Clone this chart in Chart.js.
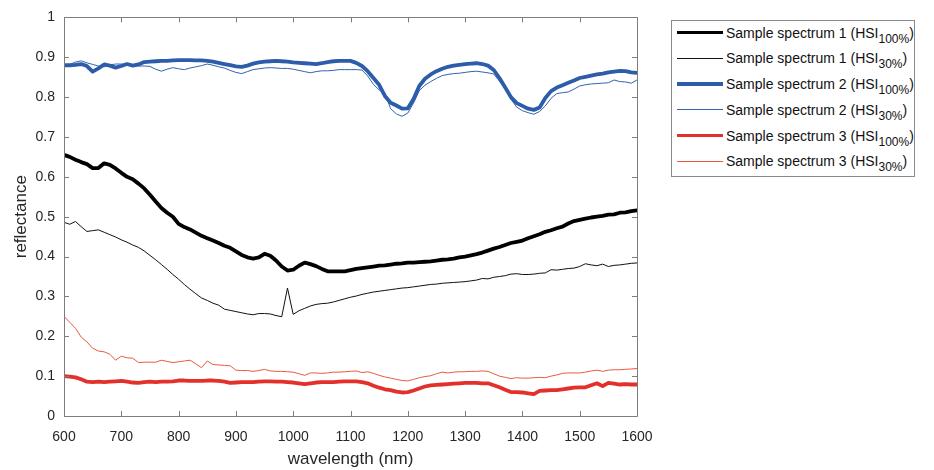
<!DOCTYPE html>
<html>
<head>
<meta charset="utf-8">
<script src="https://cdn.jsdelivr.net/npm/chart.js@4.4.1/dist/chart.umd.min.js"></script>
<style>
  html, body { margin: 0; padding: 0; background: #fff; }
  #wrap { position: relative; width: 934px; height: 470px; }
  #legend {
    position: absolute; left: 671px; top: 20px; width: 244px; height: 157px;
    border: 1px solid #8a8a8a; box-sizing: border-box; background: #fff;
    font-family: "Liberation Sans", Arial, sans-serif; font-size: 14px; color: #111;
  }
  .row { position: absolute; left: 0; height: 20px; width: 240px; }
  .swatch { position: absolute; left: 5px; width: 46px; }
  .lbl { position: absolute; left: 54px; top: 0; white-space: nowrap; line-height: 20px; }
  .lbl sub { font-size: 12px; vertical-align: -5px; line-height: 0; }
</style>
</head>
<body>
<div id="wrap">
  <canvas id="c" width="934" height="470"></canvas>
  <div id="legend"></div>
</div>
<script>
// ---- data ----
const wavelengths = [600,610,620,630,640,650,660,670,680,690,700,710,720,730,740,750,760,770,780,790,800,810,820,830,840,850,860,870,880,890,900,910,920,930,940,950,960,970,980,990,1000,1010,1020,1030,1040,1050,1060,1070,1080,1090,1100,1110,1120,1130,1140,1150,1160,1170,1180,1190,1200,1210,1220,1230,1240,1250,1260,1270,1280,1290,1300,1310,1320,1330,1340,1350,1360,1370,1380,1390,1400,1410,1420,1430,1440,1450,1460,1470,1480,1490,1500,1510,1520,1530,1540,1550,1560,1570,1580,1590,1600];

const s1_100 = [0.655,0.650,0.643,0.637,0.632,0.622,0.622,0.634,0.630,0.621,0.610,0.600,0.594,0.583,0.571,0.555,0.538,0.522,0.510,0.500,0.482,0.474,0.468,0.460,0.452,0.446,0.440,0.434,0.427,0.422,0.413,0.404,0.398,0.395,0.398,0.407,0.402,0.390,0.375,0.365,0.367,0.377,0.385,0.381,0.376,0.369,0.363,0.363,0.363,0.363,0.366,0.369,0.371,0.373,0.375,0.377,0.378,0.380,0.382,0.383,0.385,0.385,0.386,0.387,0.388,0.390,0.392,0.393,0.395,0.398,0.400,0.403,0.406,0.410,0.415,0.420,0.424,0.429,0.434,0.437,0.440,0.446,0.451,0.456,0.462,0.466,0.471,0.475,0.483,0.489,0.492,0.495,0.498,0.500,0.502,0.505,0.506,0.510,0.511,0.514,0.516];

const s1_30 = [0.486,0.481,0.488,0.475,0.463,0.465,0.467,0.461,0.455,0.449,0.442,0.436,0.429,0.423,0.414,0.403,0.392,0.380,0.368,0.355,0.343,0.330,0.318,0.307,0.296,0.290,0.283,0.278,0.268,0.265,0.262,0.259,0.256,0.254,0.257,0.257,0.256,0.252,0.249,0.321,0.255,0.264,0.270,0.276,0.280,0.282,0.283,0.286,0.290,0.294,0.298,0.301,0.305,0.308,0.311,0.313,0.315,0.317,0.319,0.321,0.322,0.324,0.326,0.328,0.330,0.331,0.333,0.334,0.335,0.336,0.337,0.339,0.341,0.345,0.344,0.348,0.350,0.352,0.356,0.357,0.355,0.355,0.356,0.358,0.359,0.367,0.366,0.368,0.370,0.371,0.375,0.382,0.379,0.377,0.381,0.375,0.378,0.379,0.381,0.383,0.384];

const s2_100 = [0.880,0.880,0.881,0.883,0.878,0.864,0.872,0.882,0.879,0.874,0.878,0.883,0.879,0.882,0.888,0.889,0.890,0.891,0.891,0.892,0.893,0.893,0.893,0.892,0.892,0.891,0.889,0.886,0.883,0.880,0.877,0.876,0.879,0.884,0.887,0.889,0.890,0.891,0.890,0.889,0.887,0.886,0.885,0.884,0.883,0.885,0.888,0.890,0.891,0.891,0.891,0.886,0.878,0.865,0.848,0.831,0.803,0.786,0.779,0.771,0.772,0.795,0.828,0.846,0.857,0.865,0.871,0.876,0.879,0.881,0.883,0.884,0.885,0.883,0.879,0.868,0.848,0.824,0.800,0.785,0.778,0.771,0.768,0.774,0.798,0.815,0.824,0.830,0.836,0.842,0.848,0.851,0.854,0.857,0.859,0.862,0.864,0.866,0.865,0.862,0.861];

const s2_30 = [0.880,0.882,0.888,0.891,0.886,0.882,0.878,0.876,0.881,0.883,0.883,0.882,0.880,0.878,0.878,0.877,0.870,0.865,0.870,0.874,0.871,0.869,0.873,0.876,0.879,0.883,0.880,0.876,0.873,0.867,0.862,0.859,0.864,0.869,0.871,0.873,0.874,0.873,0.872,0.872,0.870,0.867,0.864,0.861,0.864,0.866,0.866,0.867,0.869,0.869,0.869,0.869,0.868,0.853,0.832,0.818,0.810,0.771,0.758,0.752,0.760,0.785,0.816,0.830,0.839,0.847,0.854,0.857,0.859,0.860,0.862,0.864,0.865,0.863,0.861,0.858,0.840,0.820,0.795,0.775,0.766,0.761,0.757,0.764,0.778,0.797,0.809,0.811,0.813,0.820,0.828,0.831,0.833,0.834,0.835,0.836,0.843,0.839,0.838,0.835,0.843];

const s3_100 = [0.100,0.099,0.097,0.092,0.086,0.085,0.086,0.085,0.086,0.087,0.088,0.086,0.084,0.083,0.085,0.086,0.085,0.086,0.086,0.087,0.089,0.089,0.088,0.088,0.088,0.089,0.089,0.088,0.086,0.083,0.084,0.085,0.085,0.085,0.086,0.087,0.087,0.086,0.086,0.085,0.084,0.082,0.080,0.082,0.084,0.085,0.085,0.085,0.086,0.087,0.087,0.087,0.085,0.082,0.076,0.071,0.067,0.065,0.061,0.059,0.060,0.064,0.069,0.074,0.077,0.078,0.079,0.080,0.081,0.082,0.083,0.083,0.083,0.082,0.082,0.077,0.072,0.066,0.060,0.060,0.059,0.057,0.055,0.063,0.064,0.065,0.065,0.067,0.069,0.071,0.072,0.072,0.077,0.082,0.075,0.083,0.081,0.079,0.080,0.079,0.079];

const s3_30 = [0.250,0.235,0.220,0.198,0.186,0.170,0.163,0.161,0.155,0.140,0.150,0.146,0.145,0.134,0.135,0.135,0.135,0.140,0.137,0.134,0.136,0.138,0.140,0.131,0.121,0.138,0.129,0.128,0.127,0.126,0.115,0.114,0.114,0.112,0.114,0.117,0.113,0.112,0.112,0.111,0.110,0.106,0.102,0.108,0.108,0.107,0.108,0.110,0.110,0.111,0.112,0.113,0.109,0.111,0.107,0.102,0.098,0.095,0.092,0.089,0.088,0.092,0.096,0.099,0.101,0.106,0.110,0.108,0.110,0.111,0.111,0.112,0.112,0.113,0.112,0.106,0.100,0.097,0.094,0.096,0.095,0.095,0.096,0.097,0.096,0.100,0.103,0.107,0.108,0.108,0.108,0.110,0.113,0.115,0.112,0.115,0.116,0.116,0.117,0.118,0.119];

const seriesNames = ['Sample spectrum 1', 'Sample spectrum 1', 'Sample spectrum 2', 'Sample spectrum 2', 'Sample spectrum 3', 'Sample spectrum 3'];
const seriesSubs = ['100%', '30%', '100%', '30%', '100%', '30%'];
const xTickLabels = ['600','700','800','900','1000','1100','1200','1300','1400','1500','1600'];
const yTickLabels = ['0','0.1','0.2','0.3','0.4','0.5','0.6','0.7','0.8','0.9','1'];
const xTitle = 'wavelength (nm)';
const yTitle = 'reflectance';

// ---- styles ----
const styles = [
  { color: '#000000', width: 3.8 },
  { color: '#111111', width: 1 },
  { color: '#2c5caa', width: 3.8 },
  { color: '#3561ae', width: 1 },
  { color: '#e3302a', width: 3.8 },
  { color: '#e85a40', width: 1 }
];
const seriesValues = [s1_100, s1_30, s2_100, s2_30, s3_100, s3_30];

const datasets = seriesValues.map((vals, i) => ({
  label: seriesNames[i] + ' (HSI' + seriesSubs[i] + ')',
  data: vals.map((v, k) => ({ x: wavelengths[k], y: v })),
  borderColor: styles[i].color,
  borderWidth: styles[i].width,
  pointRadius: 0,
  tension: 0,
  fill: false,
  borderJoinStyle: 'round',
  borderCapStyle: 'round'
}));

const AXIS_COLOR = '#7d7d7d';
const TEXT_COLOR = '#262626';
const FONT = '"Liberation Sans", Arial, sans-serif';

const boxTicks = {
  id: 'boxTicks',
  afterDraw(chart) {
    const { ctx, chartArea: a, scales } = chart;
    const xs = scales.x, ys = scales.y;
    const tl = 5;
    ctx.save();
    ctx.strokeStyle = AXIS_COLOR;
    ctx.lineWidth = 1;
    ctx.beginPath();
    ctx.rect(Math.round(a.left) + 0.5, Math.round(a.top) + 0.5,
             Math.round(a.right - a.left), Math.round(a.bottom - a.top));
    xs.ticks.forEach(t => {
      const px = Math.round(xs.getPixelForValue(t.value)) + 0.5;
      ctx.moveTo(px, a.bottom); ctx.lineTo(px, a.bottom - tl);
      ctx.moveTo(px, a.top); ctx.lineTo(px, a.top + tl);
    });
    ys.ticks.forEach(t => {
      const py = Math.round(ys.getPixelForValue(t.value)) + 0.5;
      ctx.moveTo(a.left, py); ctx.lineTo(a.left + tl, py);
      ctx.moveTo(a.right, py); ctx.lineTo(a.right - tl, py);
    });
    ctx.stroke();
    ctx.restore();
  }
};

new Chart(document.getElementById('c'), {
  type: 'line',
  data: { datasets },
  options: {
    responsive: false,
    animation: false,
    devicePixelRatio: 1,
    layout: { padding: { left: 0, right: 297, top: 17, bottom: 0 } },
    plugins: { legend: { display: false }, tooltip: { enabled: false } },
    scales: {
      x: {
        type: 'linear', min: 600, max: 1600,
        afterFit: s => { s.height = 54; },
        afterBuildTicks: s => { s.ticks = xTickLabels.map(v => ({ value: Number(v) })); },
        ticks: {
          callback: (v, i) => xTickLabels[i],
          color: TEXT_COLOR, font: { family: FONT, size: 14 }, padding: 13, maxRotation: 0, autoSkip: false
        },
        grid: { display: false, drawTicks: false },
        border: { display: false },
        title: { display: true, text: xTitle, color: TEXT_COLOR, font: { family: FONT, size: 17 }, padding: { top: 0, bottom: 0 } }
      },
      y: {
        type: 'linear', min: 0, max: 1,
        afterFit: s => { s.width = 64; },
        afterBuildTicks: s => { s.ticks = yTickLabels.map(v => ({ value: Number(v) })); },
        ticks: {
          callback: (v, i) => yTickLabels[i],
          color: TEXT_COLOR, font: { family: FONT, size: 14 }, padding: 9, autoSkip: false
        },
        grid: { display: false, drawTicks: false },
        border: { display: false },
        title: { display: true, text: yTitle, color: TEXT_COLOR, font: { family: FONT, size: 17 }, padding: { top: 11, bottom: 0 } }
      }
    }
  },
  plugins: [boxTicks]
});

// ---- legend (HTML, with subscripts) ----
const legend = document.getElementById('legend');
const rowTops = [1.5, 27, 53, 78.5, 104.5, 130];
seriesNames.forEach((name, i) => {
  const row = document.createElement('div');
  row.className = 'row';
  row.style.top = rowTops[i] + 'px';
  const sw = document.createElement('div');
  sw.className = 'swatch';
  sw.style.height = styles[i].width + 'px';
  sw.style.top = (10 - styles[i].width / 2) + 'px';
  sw.style.background = styles[i].color;
  row.appendChild(sw);
  const lbl = document.createElement('div');
  lbl.className = 'lbl';
  lbl.innerHTML = name + ' (HSI<sub>' + seriesSubs[i] + '</sub>)';
  row.appendChild(lbl);
  legend.appendChild(row);
});
</script>
</body>
</html>
